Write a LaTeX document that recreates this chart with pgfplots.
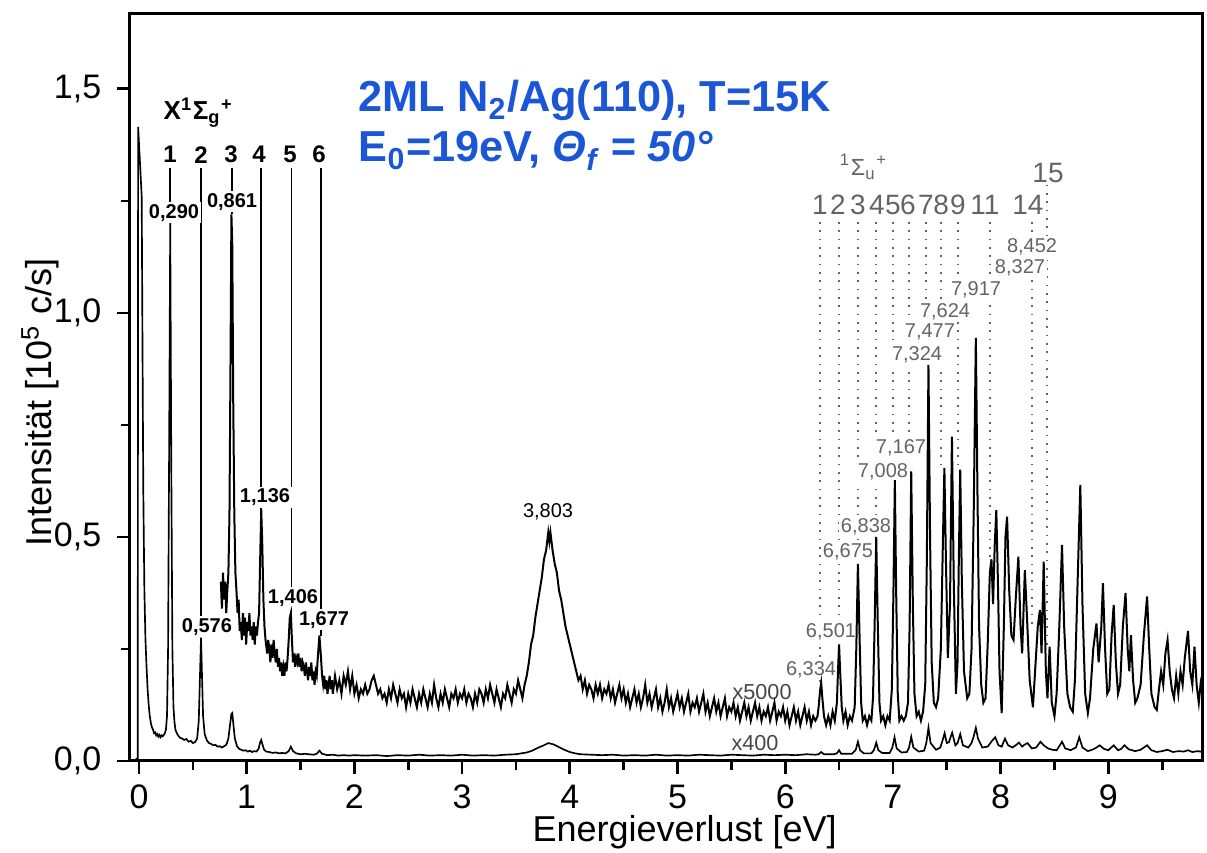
\documentclass[border=0pt]{standalone}
\usepackage{fontspec}
\setmainfont{Liberation Sans}
\usepackage{pgfplots}
\pgfplotsset{compat=1.18}
\definecolor{titleblue}{RGB}{26,86,214}
\definecolor{dgray}{RGB}{100,100,100}
\definecolor{lgray}{RGB}{70,70,70}
\begin{document}
\begin{tikzpicture}
\path[use as bounding box] (-39pt,-27.6pt) rectangle (323.1pt,228.3pt);
\begin{axis}[
  at={(0,0)}, anchor=south west, scale only axis,
  width=321.9pt, height=224.1pt,
  xmin=-0.0836, xmax=9.879, ymin=0, ymax=1.667,
  clip=false,
  axis line style={line width=0.9pt},
  tick align=outside, tick pos=left,
  xtick={0,1,...,9}, minor xtick={0.5,1.5,...,9.5},
  ytick={0,0.5,1,1.5}, minor ytick={0.25,0.75,1.25},
  major tick length=4pt, minor tick length=2.6pt,
  every tick/.style={black, line width=0.8pt},
  /pgf/number format/assume math mode=true,
  /pgf/number format/use comma,
  yticklabel style={/pgf/number format/fixed, /pgf/number format/fixed zerofill, /pgf/number format/precision=1, xshift=-1.1pt},
  xticklabel style={inner sep=1pt, yshift=-2pt},
  ticklabel style={font=\fontsize{10.2}{12}\selectfont},
  xlabel={Energieverlust [eV]},
  ylabel={Intensität [10\textsuperscript{5} c/s]},
  label style={font=\fontsize{10.8}{12}\selectfont, inner sep=0pt},
  xlabel style={at={(axis description cs:0.517,-0.096)}, anchor=center},
  ylabel style={at={(axis description cs:-0.0835,0.48)}, anchor=center},
  every axis plot/.append style={mark=none},
]
% --- black marker lines (X state)
\addplot[black, line width=0.5pt] coordinates {(0.29,1.324) (0.29,1.20)};
\addplot[black, line width=0.5pt] coordinates {(0.576,1.324) (0.576,0.275)};
\addplot[black, line width=0.5pt] coordinates {(0.861,1.324) (0.861,1.22)};
\addplot[black, line width=0.5pt] coordinates {(1.13,1.324) (1.13,0.56)};
\addplot[black, line width=0.5pt] coordinates {(1.415,1.324) (1.415,0.33)};
\addplot[black, line width=0.5pt] coordinates {(1.69,1.324) (1.69,0.28)};
% --- gray dotted marker lines (Sigma_u state)
\addplot[dgray, dotted, line width=0.5pt] coordinates {(6.323,1.203) (6.323,0.174)};
\addplot[dgray, dotted, line width=0.5pt] coordinates {(6.50,1.203) (6.50,0.26)};
\addplot[dgray, dotted, line width=0.5pt] coordinates {(6.676,1.203) (6.676,0.44)};
\addplot[dgray, dotted, line width=0.5pt] coordinates {(6.843,1.203) (6.843,0.50)};
\addplot[dgray, dotted, line width=0.5pt] coordinates {(7.0,1.203) (7.0,0.627)};
\addplot[dgray, dotted, line width=0.5pt] coordinates {(7.15,1.203) (7.15,0.646)};
\addplot[dgray, dotted, line width=0.5pt] coordinates {(7.31,1.203) (7.31,0.884)};
\addplot[dgray, dotted, line width=0.5pt] coordinates {(7.447,1.203) (7.447,0.654)};
\addplot[dgray, dotted, line width=0.5pt] coordinates {(7.604,1.203) (7.604,0.65)};
\addplot[dgray, dotted, line width=0.5pt] coordinates {(7.90,1.203) (7.90,0.45)};
\addplot[dgray, dotted, line width=0.5pt] coordinates {(8.29,1.203) (8.29,0.30)};
\addplot[dgray, dotted, line width=0.5pt] coordinates {(8.43,1.286) (8.43,0.255)};
% --- labels
\node[anchor=base west, inner sep=0pt, font=\bfseries\fontsize{13}{15}\selectfont, text=titleblue] at (axis cs:2.033,1.449) {2ML N\textsubscript{2}/Ag(110), T=15K};
\node[anchor=base west, inner sep=0pt, font=\bfseries\fontsize{13}{15}\selectfont, text=titleblue] at (axis cs:2.033,1.337) {E\textsubscript{0}=19eV, \textit{Θ\textsubscript{f} = 50°}};
\node[anchor=base west, inner sep=0pt, font=\bfseries\fontsize{7.8}{9}\selectfont] at (axis cs:0.223,1.431) {X\textsuperscript{1}Σ\textsubscript{g}\textsuperscript{+}};
\begin{scope}[every node/.style={font=\bfseries\fontsize{7.2}{8}\selectfont}]
\node at (axis cs:0.288,1.353) {1};
\node at (axis cs:0.576,1.353) {2};
\node at (axis cs:0.854,1.353) {3};
\node at (axis cs:1.114,1.353) {4};
\node at (axis cs:1.402,1.353) {5};
\node at (axis cs:1.671,1.353) {6};
\end{scope}
\begin{scope}[every node/.style={font=\bfseries\fontsize{6}{7}\selectfont, fill=white, inner sep=0.6pt}]
\node at (axis cs:0.325,1.223) {0,290};
\node at (axis cs:0.864,1.248) {0,861};
\node at (axis cs:0.631,0.299) {0,576};
\node at (axis cs:1.170,0.589) {1,136};
\node at (axis cs:1.430,0.364) {1,406};
\node at (axis cs:1.718,0.315) {1,677};
\end{scope}
\node[font=\fontsize{6}{7}\selectfont, inner sep=0.6pt] at (axis cs:3.798,0.556) {3,803};
\node[text=dgray, font=\fontsize{7}{8}\selectfont] at (axis cs:6.73,1.326) {\textsuperscript{1}Σ\textsubscript{u}\textsuperscript{+}};
\begin{scope}[every node/.style={text=dgray, font=\fontsize{8.4}{9}\selectfont, inner sep=0.5pt}]
\node at (axis cs:6.323,1.241) {1};
\node at (axis cs:6.49,1.241) {2};
\node at (axis cs:6.676,1.241) {3};
\node at (axis cs:6.852,1.241) {4};
\node at (axis cs:7.0,1.241) {5};
\node at (axis cs:7.14,1.241) {6};
\node at (axis cs:7.307,1.241) {7};
\node at (axis cs:7.447,1.241) {8};
\node at (axis cs:7.604,1.241) {9};
\node at (axis cs:7.855,1.241) {11};
\node at (axis cs:8.254,1.241) {14};
\node at (axis cs:8.44,1.3125) {15};
\end{scope}
\begin{scope}[every node/.style={text=dgray, font=\fontsize{6}{7}\selectfont, fill=white, inner sep=0.6pt}]
\node at (axis cs:6.240,0.203) {6,334};
\node at (axis cs:6.425,0.288) {6,501};
\node at (axis cs:6.583,0.467) {6,675};
\node at (axis cs:6.750,0.522) {6,838};
\node at (axis cs:6.908,0.645) {7,008};
\node at (axis cs:7.075,0.699) {7,167};
\node at (axis cs:7.224,0.906) {7,324};
\node at (axis cs:7.344,0.958) {7,477};
\node at (axis cs:7.484,1.002) {7,624};
\node at (axis cs:7.772,1.051) {7,917};
\node at (axis cs:8.180,1.100) {8,327};
\node at (axis cs:8.292,1.147) {8,452};
\end{scope}
\node[text=lgray, font=\fontsize{6.5}{7}\selectfont] at (axis cs:5.785,0.154) {x5000};
\node[text=lgray, font=\fontsize{6.5}{7}\selectfont] at (axis cs:5.72,0.040) {x400};
% --- x400 spectrum
\addplot[black, line width=0.5pt] coordinates {
(-0.03,0.004) (-0.012,0.006) (-0.008,1.415) (0.025,1.26) (0.033,0.9) (0.04,0.6) (0.05,0.38) (0.06,0.27) (0.07,0.21) (0.08,0.16) (0.09,0.125) (0.10,0.10) (0.11,0.085) (0.12,0.075) (0.13,0.07) (0.14,0.062) (0.15,0.064) (0.16,0.057) (0.17,0.06) (0.18,0.054) (0.19,0.058) (0.20,0.053) (0.21,0.057) (0.22,0.055) (0.23,0.058) (0.24,0.062) (0.25,0.07) (0.26,0.1) (0.27,0.25) (0.28,0.7) (0.29,1.20) (0.30,0.65) (0.31,0.25) (0.32,0.12) (0.33,0.085) (0.34,0.068) (0.36,0.058) (0.38,0.052) (0.40,0.05) (0.42,0.047) (0.44,0.049) (0.46,0.043) (0.48,0.045) (0.50,0.04) (0.52,0.042) (0.54,0.05) (0.555,0.09) (0.565,0.18) (0.576,0.275) (0.585,0.19) (0.595,0.1) (0.61,0.06) (0.63,0.046) (0.65,0.04) (0.67,0.038) (0.69,0.035) (0.71,0.036) (0.73,0.032) (0.75,0.033) (0.77,0.03) (0.79,0.033) (0.81,0.036) (0.83,0.05) (0.845,0.08) (0.858,0.105) (0.866,0.107) (0.875,0.085) (0.89,0.05) (0.91,0.033) (0.93,0.027) (0.95,0.025) (0.97,0.023) (0.99,0.024) (1.01,0.021) (1.03,0.023) (1.05,0.02) (1.07,0.022) (1.09,0.021) (1.11,0.027) (1.125,0.042) (1.135,0.047) (1.145,0.038) (1.16,0.026) (1.18,0.021) (1.21,0.02) (1.24,0.018) (1.27,0.019) (1.30,0.017) (1.33,0.018) (1.36,0.017) (1.39,0.022) (1.41,0.032) (1.43,0.022) (1.46,0.017) (1.50,0.015) (1.54,0.016) (1.58,0.015) (1.62,0.014) (1.65,0.016) (1.675,0.023) (1.70,0.016) (1.75,0.013) (1.80,0.014) (1.85,0.012) (1.90,0.013) (1.95,0.012) (2.00,0.013) (2.1,0.012) (2.2,0.013) (2.3,0.011) (2.4,0.013) (2.5,0.012) (2.6,0.014) (2.7,0.012) (2.8,0.013) (2.9,0.012) (3.0,0.014) (3.1,0.012) (3.2,0.013) (3.3,0.012) (3.4,0.014) (3.5,0.015) (3.55,0.017) (3.6,0.019) (3.65,0.023) (3.7,0.029) (3.75,0.034) (3.8,0.04) (3.85,0.037) (3.9,0.031) (3.95,0.025) (4.0,0.02) (4.05,0.017) (4.1,0.015) (4.2,0.014) (4.3,0.013) (4.4,0.014) (4.5,0.012) (4.6,0.013) (4.7,0.012) (4.8,0.014) (4.9,0.012) (5.0,0.013) (5.1,0.012) (5.2,0.014) (5.3,0.013) (5.4,0.012) (5.5,0.014) (5.6,0.013) (5.7,0.012) (5.8,0.014) (5.9,0.013) (6.0,0.014) (6.1,0.013) (6.2,0.015) (6.28,0.014) (6.31,0.015) (6.334,0.02) (6.36,0.015) (6.45,0.015) (6.48,0.017) (6.50,0.024) (6.52,0.016) (6.62,0.016) (6.655,0.025) (6.675,0.043) (6.695,0.024) (6.73,0.017) (6.80,0.017) (6.825,0.025) (6.845,0.041) (6.865,0.024) (6.90,0.018) (6.97,0.018) (6.995,0.03) (7.015,0.053) (7.035,0.028) (7.08,0.019) (7.13,0.02) (7.15,0.03) (7.17,0.054) (7.19,0.03) (7.24,0.021) (7.29,0.023) (7.31,0.04) (7.33,0.074) (7.35,0.04) (7.40,0.025) (7.44,0.03) (7.46,0.045) (7.48,0.062) (7.50,0.04) (7.52,0.042) (7.55,0.063) (7.58,0.035) (7.60,0.04) (7.625,0.06) (7.65,0.035) (7.70,0.03) (7.73,0.04) (7.75,0.055) (7.77,0.074) (7.79,0.05) (7.83,0.03) (7.88,0.032) (7.92,0.045) (7.95,0.053) (7.98,0.035) (8.01,0.032) (8.04,0.05) (8.07,0.035) (8.11,0.03) (8.14,0.035) (8.17,0.041) (8.20,0.032) (8.22,0.036) (8.25,0.04) (8.29,0.028) (8.33,0.03) (8.37,0.043) (8.40,0.035) (8.44,0.028) (8.48,0.025) (8.52,0.024) (8.55,0.035) (8.57,0.043) (8.60,0.028) (8.65,0.024) (8.70,0.03) (8.73,0.053) (8.76,0.03) (8.81,0.022) (8.86,0.026) (8.89,0.03) (8.92,0.035) (8.96,0.027) (9.0,0.024) (9.05,0.035) (9.09,0.024) (9.12,0.027) (9.15,0.035) (9.19,0.026) (9.25,0.022) (9.30,0.025) (9.36,0.035) (9.40,0.024) (9.45,0.02) (9.50,0.022) (9.55,0.025) (9.60,0.02) (9.65,0.022) (9.70,0.021) (9.74,0.024) (9.78,0.02) (9.83,0.022) (9.88,0.02)
};
% --- x5000 spectrum
\addplot[black, line width=0.6pt] coordinates {
(0.76,0.40) (0.77,0.34) (0.78,0.42) (0.79,0.36) (0.80,0.40) (0.81,0.33) (0.82,0.38) (0.83,0.42) (0.84,0.55) (0.85,0.9) (0.858,1.22) (0.866,1.15) (0.875,0.8) (0.885,0.55) (0.895,0.42) (0.905,0.38) (0.915,0.33) (0.925,0.36) (0.935,0.29) (0.945,0.31) (0.955,0.27) (0.965,0.33) (0.975,0.28) (0.985,0.32) (0.995,0.26) (1.005,0.31) (1.015,0.29) (1.025,0.33) (1.035,0.28) (1.045,0.30) (1.055,0.27) (1.065,0.31) (1.075,0.26) (1.085,0.30) (1.095,0.28) (1.105,0.31) (1.115,0.33) (1.125,0.45) (1.135,0.56) (1.145,0.48) (1.155,0.36) (1.165,0.30) (1.175,0.27) (1.19,0.24) (1.2,0.27) (1.21,0.25) (1.22,0.22) (1.23,0.26) (1.24,0.23) (1.25,0.27) (1.26,0.24) (1.27,0.22) (1.28,0.25) (1.29,0.21) (1.30,0.23) (1.31,0.20) (1.32,0.22) (1.33,0.19) (1.34,0.21) (1.35,0.19) (1.36,0.22) (1.37,0.20) (1.38,0.23) (1.39,0.27) (1.40,0.32) (1.41,0.33) (1.42,0.27) (1.43,0.22) (1.44,0.24) (1.45,0.21) (1.46,0.23) (1.47,0.22) (1.48,0.24) (1.49,0.21) (1.50,0.23) (1.51,0.20) (1.52,0.22) (1.53,0.21) (1.54,0.19) (1.55,0.22) (1.56,0.20) (1.57,0.18) (1.58,0.21) (1.59,0.19) (1.60,0.22) (1.61,0.18) (1.62,0.20) (1.63,0.17) (1.64,0.20) (1.65,0.19) (1.66,0.23) (1.675,0.28) (1.69,0.23) (1.70,0.19) (1.71,0.17) (1.72,0.19) (1.73,0.16) (1.74,0.18) (1.75,0.15) (1.76,0.17) (1.77,0.19) (1.78,0.16) (1.79,0.18) (1.80,0.15) (1.82,0.19) (1.84,0.16) (1.86,0.18) (1.88,0.15) (1.90,0.19) (1.92,0.17) (1.94,0.20) (1.96,0.16) (1.98,0.19) (2.00,0.15) (2.02,0.17) (2.04,0.14) (2.06,0.16) (2.08,0.15) (2.10,0.17) (2.12,0.15) (2.14,0.16) (2.16,0.18) (2.18,0.19) (2.20,0.17) (2.22,0.15) (2.24,0.16) (2.26,0.14) (2.28,0.15) (2.30,0.13) (2.32,0.16) (2.34,0.14) (2.36,0.17) (2.38,0.15) (2.40,0.13) (2.42,0.16) (2.44,0.14) (2.46,0.15) (2.48,0.12) (2.50,0.15) (2.52,0.13) (2.54,0.16) (2.56,0.14) (2.58,0.12) (2.60,0.15) (2.62,0.13) (2.64,0.16) (2.66,0.14) (2.68,0.12) (2.70,0.15) (2.72,0.13) (2.74,0.17) (2.76,0.14) (2.78,0.12) (2.80,0.15) (2.82,0.13) (2.84,0.16) (2.86,0.14) (2.88,0.12) (2.90,0.15) (2.92,0.14) (2.94,0.16) (2.96,0.13) (2.98,0.15) (3.00,0.14) (3.02,0.16) (3.04,0.13) (3.06,0.15) (3.08,0.14) (3.10,0.12) (3.12,0.15) (3.14,0.13) (3.16,0.16) (3.18,0.15) (3.20,0.13) (3.22,0.16) (3.24,0.14) (3.26,0.17) (3.28,0.15) (3.30,0.13) (3.32,0.16) (3.34,0.14) (3.36,0.12) (3.38,0.15) (3.40,0.14) (3.42,0.17) (3.44,0.15) (3.46,0.13) (3.48,0.16) (3.50,0.15) (3.52,0.18) (3.54,0.16) (3.56,0.14) (3.58,0.17) (3.60,0.19) (3.62,0.22) (3.64,0.26) (3.66,0.28) (3.68,0.32) (3.70,0.35) (3.72,0.38) (3.74,0.41) (3.76,0.45) (3.78,0.47) (3.80,0.51) (3.81,0.49) (3.82,0.51) (3.84,0.47) (3.86,0.44) (3.88,0.42) (3.90,0.38) (3.92,0.36) (3.94,0.33) (3.96,0.30) (3.98,0.28) (4.00,0.26) (4.02,0.24) (4.04,0.22) (4.06,0.20) (4.08,0.18) (4.10,0.19) (4.12,0.16) (4.14,0.18) (4.16,0.15) (4.18,0.17) (4.20,0.16) (4.22,0.14) (4.24,0.17) (4.26,0.15) (4.28,0.17) (4.30,0.14) (4.32,0.16) (4.34,0.15) (4.36,0.17) (4.38,0.14) (4.40,0.16) (4.42,0.13) (4.44,0.15) (4.46,0.17) (4.48,0.14) (4.50,0.16) (4.52,0.13) (4.54,0.15) (4.56,0.12) (4.58,0.14) (4.60,0.16) (4.62,0.13) (4.64,0.15) (4.66,0.12) (4.68,0.14) (4.70,0.17) (4.72,0.13) (4.74,0.15) (4.76,0.12) (4.78,0.14) (4.80,0.16) (4.82,0.12) (4.84,0.14) (4.86,0.11) (4.88,0.13) (4.90,0.16) (4.92,0.12) (4.94,0.14) (4.96,0.11) (4.98,0.13) (5.00,0.15) (5.02,0.12) (5.04,0.14) (5.06,0.11) (5.08,0.13) (5.10,0.15) (5.12,0.11) (5.14,0.13) (5.16,0.12) (5.18,0.14) (5.20,0.11) (5.22,0.13) (5.24,0.15) (5.26,0.11) (5.28,0.13) (5.30,0.10) (5.32,0.12) (5.34,0.14) (5.36,0.11) (5.38,0.13) (5.40,0.10) (5.42,0.12) (5.44,0.14) (5.46,0.10) (5.48,0.12) (5.50,0.11) (5.52,0.13) (5.54,0.10) (5.56,0.12) (5.58,0.09) (5.60,0.11) (5.62,0.13) (5.64,0.10) (5.66,0.12) (5.68,0.09) (5.70,0.11) (5.72,0.13) (5.74,0.10) (5.76,0.12) (5.78,0.09) (5.80,0.11) (5.82,0.10) (5.84,0.12) (5.86,0.09) (5.88,0.11) (5.90,0.13) (5.92,0.09) (5.94,0.11) (5.96,0.10) (5.98,0.12) (6.00,0.09) (6.02,0.11) (6.04,0.08) (6.06,0.10) (6.08,0.12) (6.10,0.09) (6.12,0.11) (6.14,0.08) (6.16,0.10) (6.18,0.12) (6.20,0.09) (6.22,0.11) (6.24,0.08) (6.26,0.10) (6.28,0.09) (6.30,0.10) (6.31,0.12) (6.325,0.16) (6.334,0.174) (6.345,0.14) (6.36,0.10) (6.38,0.08) (6.40,0.10) (6.42,0.08) (6.44,0.11) (6.46,0.09) (6.48,0.13) (6.49,0.2) (6.50,0.26) (6.51,0.2) (6.525,0.12) (6.54,0.09) (6.56,0.11) (6.58,0.08) (6.60,0.10) (6.62,0.09) (6.645,0.12) (6.66,0.25) (6.675,0.44) (6.69,0.28) (6.705,0.13) (6.72,0.09) (6.74,0.10) (6.76,0.08) (6.78,0.10) (6.80,0.09) (6.815,0.14) (6.83,0.30) (6.845,0.50) (6.86,0.30) (6.875,0.13) (6.89,0.09) (6.91,0.10) (6.93,0.08) (6.95,0.10) (6.97,0.09) (6.99,0.16) (7.005,0.38) (7.018,0.627) (7.03,0.38) (7.045,0.15) (7.06,0.09) (7.08,0.10) (7.10,0.09) (7.12,0.10) (7.14,0.13) (7.155,0.3) (7.17,0.646) (7.185,0.35) (7.20,0.15) (7.22,0.10) (7.24,0.11) (7.26,0.09) (7.28,0.11) (7.30,0.17) (7.315,0.45) (7.33,0.884) (7.345,0.5) (7.36,0.22) (7.38,0.13) (7.40,0.12) (7.42,0.14) (7.445,0.25) (7.465,0.5) (7.478,0.654) (7.492,0.45) (7.51,0.23) (7.53,0.35) (7.548,0.724) (7.565,0.4) (7.585,0.15) (7.60,0.22) (7.612,0.45) (7.625,0.65) (7.64,0.4) (7.66,0.2) (7.69,0.14) (7.71,0.15) (7.73,0.25) (7.75,0.55) (7.77,0.944) (7.785,0.6) (7.80,0.3) (7.82,0.17) (7.84,0.13) (7.86,0.14) (7.88,0.26) (7.90,0.42) (7.915,0.45) (7.93,0.35) (7.945,0.48) (7.96,0.56) (7.975,0.4) (7.99,0.2) (8.01,0.107) (8.03,0.3) (8.045,0.5) (8.06,0.545) (8.08,0.38) (8.10,0.28) (8.12,0.27) (8.14,0.36) (8.165,0.456) (8.185,0.3) (8.20,0.24) (8.225,0.426) (8.245,0.32) (8.27,0.18) (8.30,0.12) (8.32,0.2) (8.345,0.3) (8.365,0.337) (8.38,0.24) (8.40,0.445) (8.42,0.2) (8.435,0.14) (8.455,0.255) (8.475,0.13) (8.50,0.10) (8.52,0.15) (8.545,0.3) (8.57,0.482) (8.59,0.3) (8.62,0.15) (8.645,0.12) (8.67,0.11) (8.69,0.18) (8.715,0.4) (8.74,0.616) (8.76,0.35) (8.785,0.15) (8.81,0.107) (8.83,0.14) (8.86,0.25) (8.89,0.307) (8.91,0.22) (8.935,0.3) (8.95,0.397) (8.97,0.25) (8.99,0.15) (9.01,0.16) (9.03,0.28) (9.05,0.348) (9.07,0.22) (9.09,0.15) (9.11,0.17) (9.135,0.3) (9.16,0.375) (9.18,0.25) (9.195,0.2) (9.21,0.281) (9.23,0.18) (9.25,0.13) (9.27,0.14) (9.30,0.17) (9.33,0.28) (9.36,0.367) (9.38,0.25) (9.40,0.15) (9.43,0.12) (9.45,0.114) (9.47,0.16) (9.49,0.2) (9.51,0.17) (9.53,0.24) (9.55,0.27) (9.57,0.2) (9.59,0.16) (9.61,0.14) (9.63,0.19) (9.65,0.15) (9.67,0.2) (9.69,0.17) (9.71,0.23) (9.74,0.29) (9.76,0.2) (9.78,0.17) (9.80,0.255) (9.82,0.17) (9.84,0.13) (9.86,0.18) (9.88,0.2)
};
\end{axis}
\end{tikzpicture}
\end{document}
